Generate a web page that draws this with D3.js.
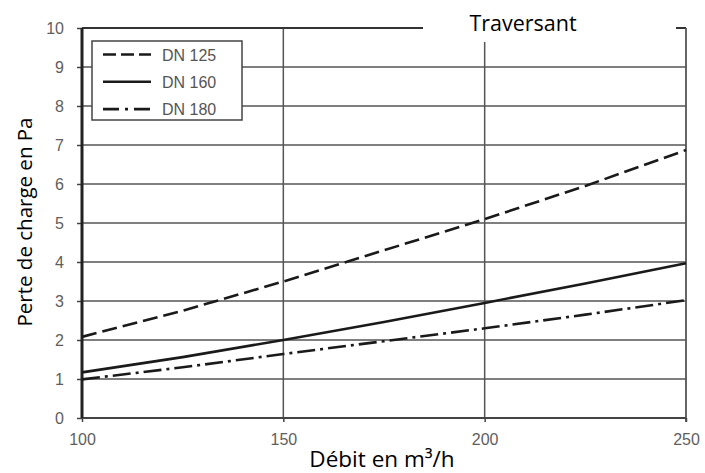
<!DOCTYPE html>
<html>
<head>
<meta charset="utf-8">
<script src="https://cdn.jsdelivr.net/npm/d3@7/dist/d3.min.js"></script>
<style>
  html, body { margin: 0; padding: 0; background: #fff; }
  svg { display: block; }
</style>
</head>
<body>
<svg id="chart" width="705" height="473"></svg>
<script>
// ---- data ----
const flows = [100, 125, 150, 175, 200, 225, 250];
const dn125 = [2.08, 2.75, 3.5, 4.3, 5.1, 5.95, 6.87];
const dn160 = [1.17, 1.56, 2.0, 2.46, 2.95, 3.45, 3.97];
const dn180 = [0.99, 1.3, 1.64, 1.97, 2.3, 2.65, 3.02];
const seriesNames = ["DN 125", "DN 160", "DN 180"];
const xTicks = [100, 150, 200, 250];
const yTicks = [0, 1, 2, 3, 4, 5, 6, 7, 8, 9, 10];
const title = "Traversant";
const xTitle = "Débit en m³/h";
const yTitle = "Perte de charge en Pa";

const series = [
  { name: seriesNames[0], values: dn125, dash: "15,6", legendDash: "13,5" },
  { name: seriesNames[1], values: dn160, dash: null, legendDash: null },
  { name: seriesNames[2], values: dn180, dash: "18,5,3,5", legendDash: "16,6,3,6" }
];

const svg = d3.select("#chart");
const L = 82, R = 686, T = 28, B = 418;
const x = d3.scaleLinear().domain([100, 250]).range([L, R]);
const y = d3.scaleLinear().domain([0, 10]).range([B, T]);

const gridColor = "#555";
// horizontal gridlines
svg.append("g").selectAll("line").data(yTicks.filter(d => d > 0 && d < 10)).join("line")
  .attr("x1", L).attr("x2", R).attr("y1", d => y(d)).attr("y2", d => y(d))
  .attr("stroke", gridColor).attr("stroke-width", 1.5);
// vertical gridlines
svg.append("g").selectAll("line").data(xTicks.filter(d => d > 100 && d < 250)).join("line")
  .attr("x1", d => x(d)).attr("x2", d => x(d)).attr("y1", T).attr("y2", B)
  .attr("stroke", gridColor).attr("stroke-width", 1.5);

// top frame and right frame
svg.append("line").attr("x1", L).attr("x2", R).attr("y1", T).attr("y2", T)
  .attr("stroke", "#333").attr("stroke-width", 2);
svg.append("line").attr("x1", R).attr("x2", R).attr("y1", T).attr("y2", B + 4)
  .attr("stroke", gridColor).attr("stroke-width", 1.8);

// axes
const yAxis = d3.axisLeft(y).tickValues(yTicks).tickSize(5).tickPadding(13).tickFormat(d3.format("d"));
const gy = svg.append("g").attr("transform", `translate(${L},0)`).call(yAxis);
const xAxis = d3.axisBottom(x).tickValues(xTicks).tickSize(4).tickPadding(12).tickFormat(d3.format("d"));
const gx = svg.append("g").attr("transform", `translate(0,${B})`).call(xAxis);
[gx, gy].forEach(g => {
  g.select(".domain").remove();
  g.selectAll(".tick line").attr("stroke", "#444").attr("stroke-width", 1.5);
  g.selectAll("text").attr("fill", "#5e5e5e").style("font-family", "'Liberation Sans', Arial, sans-serif").style("font-size", "16px");
});
// axis lines
svg.append("line").attr("x1", L).attr("x2", R).attr("y1", B).attr("y2", B)
  .attr("stroke", "#444").attr("stroke-width", 2.2);
svg.append("line").attr("x1", L).attr("x2", L).attr("y1", T).attr("y2", B)
  .attr("stroke", "#222").attr("stroke-width", 3);

// title with white background covering frame
svg.append("rect").attr("x", 423).attr("y", 0).attr("width", 253).attr("height", 42).attr("fill", "#fff");
svg.append("text").attr("x", 523).attr("y", 31).attr("text-anchor", "middle")
  .style("font-family", "'Open Sans', sans-serif").style("font-size", "21.5px").attr("fill", "#000").text(title);

// lines
const line = d3.line().x((d, i) => x(flows[i])).y(d => y(d));
svg.append("g").selectAll("path").data(series).join("path")
  .attr("d", d => line(d.values))
  .attr("fill", "none").attr("stroke", "#1a1a1a").attr("stroke-width", 2.6)
  .attr("stroke-dasharray", d => d.dash);

// legend
const lg = svg.append("g");
lg.append("rect").attr("x", 92).attr("y", 41).attr("width", 150).attr("height", 79)
  .attr("fill", "#fff").attr("stroke", "#444").attr("stroke-width", 1.5);
const rows = lg.selectAll("g.row").data(series).join("g").attr("class", "row")
  .attr("transform", (d, i) => `translate(0,${54.5 + i * 27.3})`);
rows.append("line").attr("x1", 103).attr("x2", 151).attr("y1", 0).attr("y2", 0)
  .attr("stroke", "#1a1a1a").attr("stroke-width", 2.6)
  .attr("stroke-dasharray", d => d.legendDash);
rows.append("text").attr("x", 162).attr("y", 6).text(d => d.name)
  .attr("fill", "#555").style("font-family", "'Liberation Sans', Arial, sans-serif").style("font-size", "16px");

// axis titles
svg.append("text").attr("x", 382).attr("y", 467).attr("text-anchor", "middle")
  .style("font-family", "'Open Sans', sans-serif").style("font-size", "22.5px").attr("fill", "#000").text(xTitle);
svg.append("text").attr("transform", "translate(32,222) rotate(-90)").attr("text-anchor", "middle")
  .style("font-family", "'Open Sans', sans-serif").style("font-size", "20.5px").attr("fill", "#000").text(yTitle);
</script>
</body>
</html>
